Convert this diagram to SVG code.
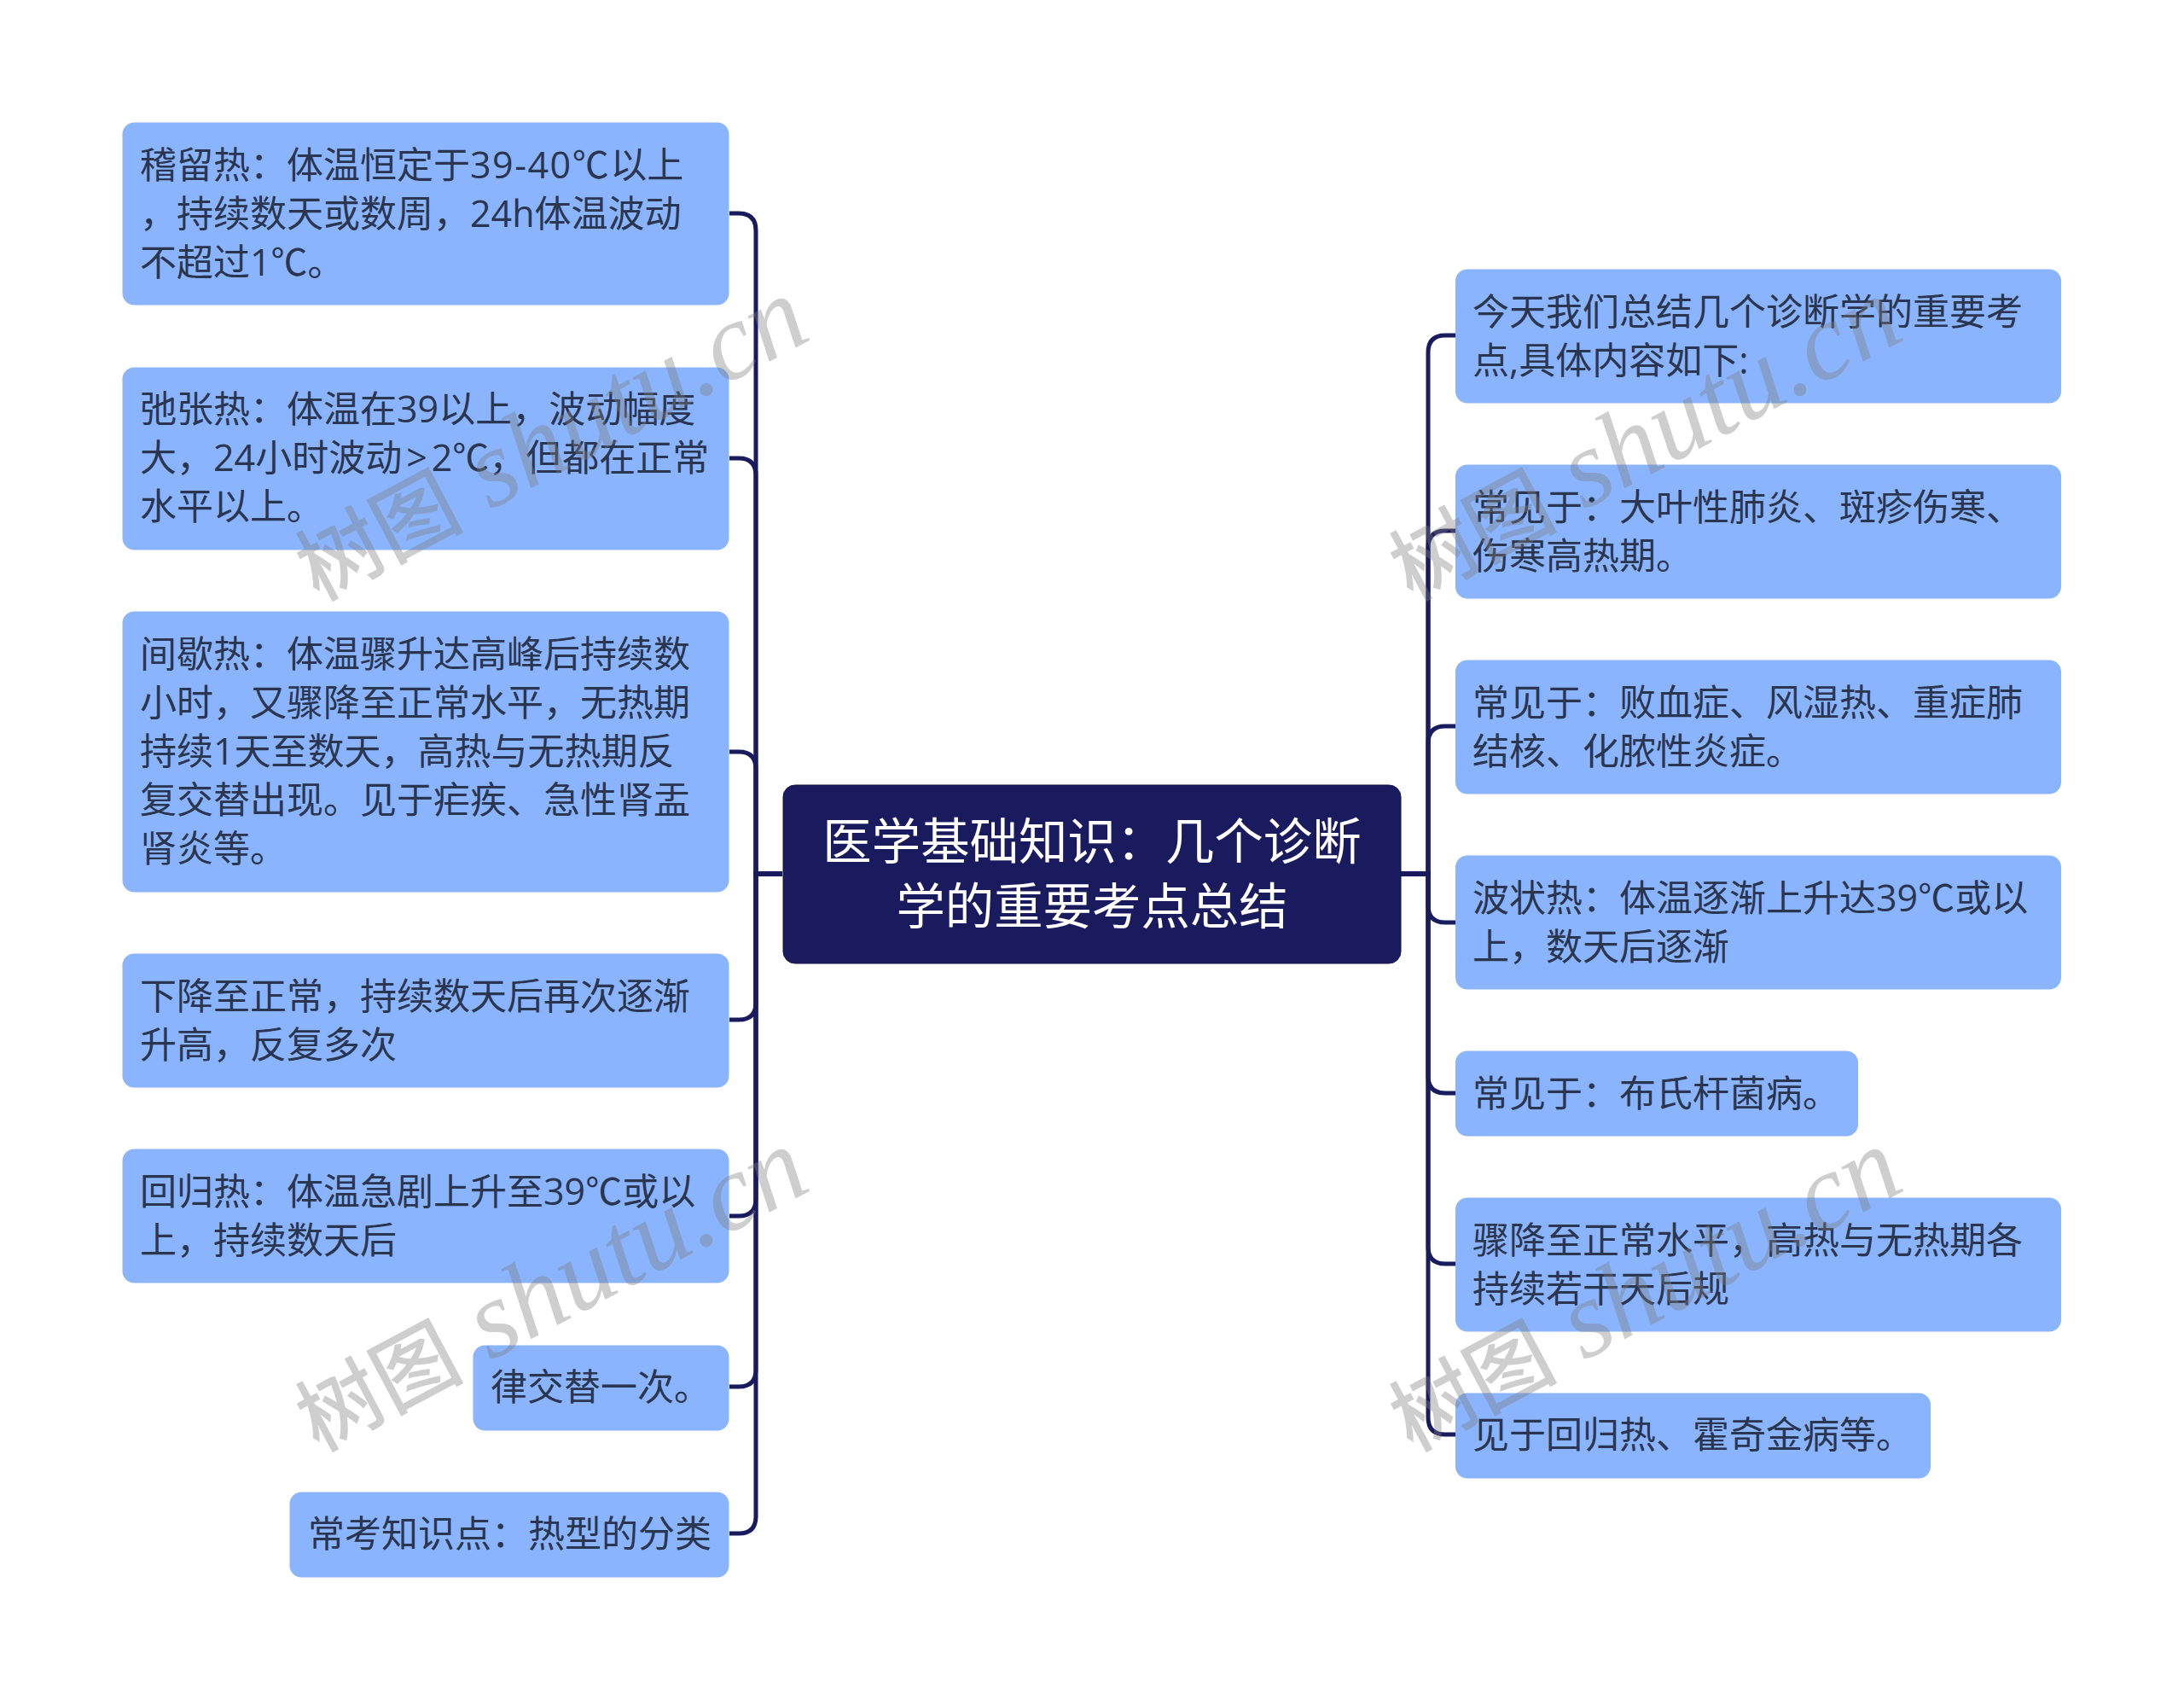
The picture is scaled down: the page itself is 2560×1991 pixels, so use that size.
<svg xmlns="http://www.w3.org/2000/svg" width="2560" height="1991" viewBox="0 0 2560 1991">
<style>
.n{fill:#8ab4fd}
.t{font-family:"Open Sans","Noto Sans CJK SC",sans-serif;font-size:43px;fill:#2a3550}
.c{fill:none;stroke:#1a1a5e;stroke-width:5}
.w{font-family:"Liberation Serif","Noto Sans CJK SC",serif;font-size:128px;font-style:italic;fill:#7f7f7f;opacity:.38}
.wc{font-size:98px;font-weight:500;font-style:normal}
</style>
<rect width="2560" height="1991" fill="#fff"/>
<g id="connectors">
<path class="c" d="M917 1024H886V270Q886 250 866 250H855"/>
<path class="c" d="M917 1024H886V557Q886 537 866 537H855"/>
<path class="c" d="M917 1024H886V901Q886 881 866 881H855"/>
<path class="c" d="M917 1024H886V1175Q886 1195 866 1195H855"/>
<path class="c" d="M917 1024H886V1405Q886 1425 866 1425H855"/>
<path class="c" d="M917 1024H886V1605Q886 1625 866 1625H855"/>
<path class="c" d="M917 1024H886V1777Q886 1797 866 1797H855"/>
<path class="c" d="M1642 1024H1674V413Q1674 393 1694 393H1706"/>
<path class="c" d="M1642 1024H1674V642Q1674 622 1694 622H1706"/>
<path class="c" d="M1642 1024H1674V871Q1674 851 1694 851H1706"/>
<path class="c" d="M1642 1024H1674V1061Q1674 1081 1694 1081H1706"/>
<path class="c" d="M1642 1024H1674V1261Q1674 1281 1694 1281H1706"/>
<path class="c" d="M1642 1024H1674V1461Q1674 1481 1694 1481H1706"/>
<path class="c" d="M1642 1024H1674V1661Q1674 1681 1694 1681H1706"/>
</g>
<g id="center"><rect x="918" y="920" width="724" height="209" rx="14" fill="#1a1a5e" stroke="#14144f" stroke-width="1"/>
<text text-anchor="middle" font-family="'Noto Sans CJK SC','Noto Sans',sans-serif" font-size="57.4px" fill="#fff"><tspan x="1280" y="1007">医学基础知识：几个诊断</tspan><tspan x="1280" y="1083">学的重要考点总结</tspan></text></g>
<g id="l1"><rect class="n" x="143.500" y="143.500" width="711" height="214" rx="14"/><text class="t"><tspan x="164" y="209">稽留热：体温恒定于<tspan letter-spacing="1.5">39-40℃</tspan>以上</tspan><tspan x="164" y="266">，持续数天或数周，24h体温波动</tspan><tspan x="164" y="323">不超过1℃。</tspan></text></g>
<g id="l2"><rect class="n" x="143.500" y="430.500" width="711" height="214" rx="14"/><text class="t"><tspan x="164" y="495">弛张热：体温在39以上，波动幅度</tspan><tspan x="164" y="552">大，24小时波动<tspan dx="5">&gt;</tspan><tspan dx="5">2℃，但都在正常</tspan></tspan><tspan x="164" y="609">水平以上。</tspan></text></g>
<g id="l3"><rect class="n" x="143.500" y="716.500" width="711" height="329" rx="14"/><text class="t"><tspan x="164" y="782">间歇热：体温骤升达高峰后持续数</tspan><tspan x="164" y="839">小时，又骤降至正常水平，无热期</tspan><tspan x="164" y="896">持续1天至数天，高热与无热期反</tspan><tspan x="164" y="953">复交替出现。见于疟疾、急性肾盂</tspan><tspan x="164" y="1010">肾炎等。</tspan></text></g>
<g id="l4"><rect class="n" x="143.500" y="1117.500" width="711" height="157" rx="14"/><text class="t"><tspan x="164" y="1183">下降至正常，持续数天后再次逐渐</tspan><tspan x="164" y="1240">升高，反复多次</tspan></text></g>
<g id="l5"><rect class="n" x="143.500" y="1346.500" width="711" height="157" rx="14"/><text class="t"><tspan x="164" y="1412">回归热：体温急剧上升至39℃或以</tspan><tspan x="164" y="1469">上，持续数天后</tspan></text></g>
<g id="l6"><rect class="n" x="554.500" y="1576.500" width="300" height="100" rx="14"/><text class="t" x="575" y="1641">律交替一次。</text></g>
<g id="l7"><rect class="n" x="339.500" y="1748.500" width="515" height="100" rx="14"/><text class="t" x="361" y="1813">常考知识点：热型的分类</text></g>
<g id="r1"><rect class="n" x="1706" y="315.500" width="710" height="157" rx="14"/><text class="t"><tspan x="1726" y="381">今天我们总结几个诊断学的重要考</tspan><tspan x="1726" y="438">点,具体内容如下:</tspan></text></g>
<g id="r2"><rect class="n" x="1706" y="544.500" width="710" height="157" rx="14"/><text class="t"><tspan x="1726" y="610">常见于：大叶性肺炎、斑疹伤寒、</tspan><tspan x="1726" y="667">伤寒高热期。</tspan></text></g>
<g id="r3"><rect class="n" x="1706" y="773.500" width="710" height="157" rx="14"/><text class="t"><tspan x="1726" y="839">常见于：败血症、风湿热、重症肺</tspan><tspan x="1726" y="896">结核、化脓性炎症。</tspan></text></g>
<g id="r4"><rect class="n" x="1706" y="1002.500" width="710" height="157" rx="14"/><text class="t"><tspan x="1726" y="1068">波状热：体温逐渐上升达39℃或以</tspan><tspan x="1726" y="1125">上，数天后逐渐</tspan></text></g>
<g id="r5"><rect class="n" x="1706" y="1231.500" width="472" height="100" rx="14"/><text class="t" x="1726" y="1297">常见于：布氏杆菌病。</text></g>
<g id="r6"><rect class="n" x="1706" y="1403.500" width="710" height="157" rx="14"/><text class="t"><tspan x="1726" y="1469">骤降至正常水平，高热与无热期各</tspan><tspan x="1726" y="1526">持续若干天后规</tspan></text></g>
<g id="r7"><rect class="n" x="1706" y="1632.500" width="557" height="100" rx="14"/><text class="t" x="1726" y="1697">见于回归热、霍奇金病等。</text></g>
<g id="watermarks">
<text class="w" transform="translate(373,705) rotate(-28)"><tspan class="wc">树图</tspan> shutu.cn</text>
<text class="w" transform="translate(1655,705) rotate(-28)"><tspan class="wc">树图</tspan> shutu.cn</text>
<text class="w" transform="translate(373,1702) rotate(-28)"><tspan class="wc">树图</tspan> shutu.cn</text>
<text class="w" transform="translate(1655,1702) rotate(-28)"><tspan class="wc">树图</tspan> shutu.cn</text>
</g>
</svg>
